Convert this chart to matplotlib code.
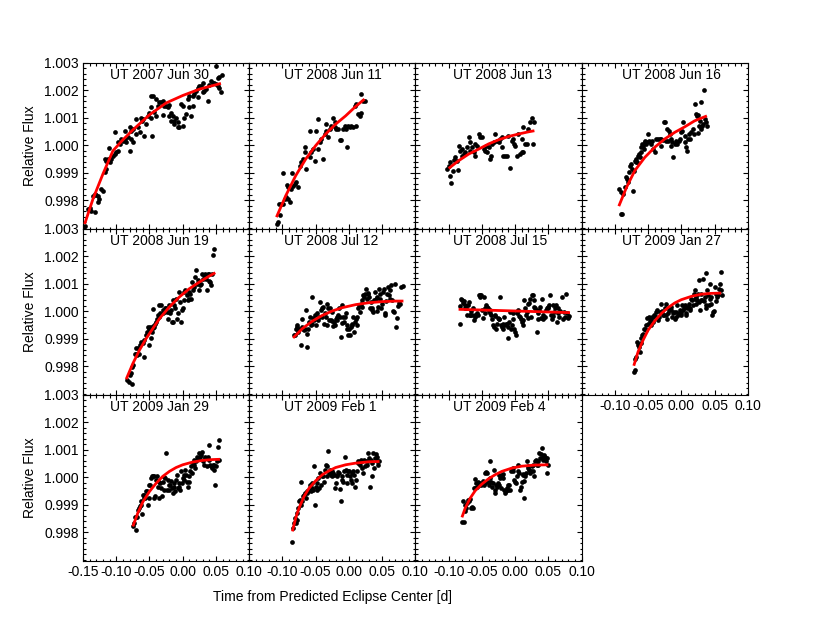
"""Secondary eclipse light curves: eleven nights of relative flux with ramp-model fits."""

import matplotlib

matplotlib.use("Agg")
import matplotlib.pyplot as plt
import numpy as np
from matplotlib.ticker import MultipleLocator

plt.rcParams["font.family"] = ["Liberation Sans", "DejaVu Sans"]
plt.rcParams["axes.unicode_minus"] = False

# ---------------------------------------------------------------------------
# Data: (time from predicted eclipse center [d], relative flux)
# ---------------------------------------------------------------------------
jun30_2007 = np.array([
    (-0.1475, 0.99707), (-0.1425, 0.99768), (-0.14, 0.99771), (-0.1375, 0.99762), (-0.1325, 0.99756),
    (-0.135, 0.99816), (-0.1325, 0.99822), (-0.13, 0.99819), (-0.1275, 0.99816), (-0.126, 0.99804),
    (-0.1275, 0.99792), (-0.1225, 0.99840), (-0.12, 0.99834), (-0.1175, 0.99901), (-0.115, 0.99913),
    (-0.1175, 0.99949), (-0.115, 0.99943), (-0.1125, 0.99949), (-0.11, 0.99937), (-0.1075, 0.99949),
    (-0.111, 0.99988), (-0.105, 0.99961), (-0.1025, 0.99967), (-0.10, 0.99973), (-0.0975, 0.99979),
    (-0.1025, 1.00046), (-0.0975, 1.00010), (-0.095, 1.00004), (-0.0925, 1.00022), (-0.09, 1.00016),
    (-0.0875, 1.00022), (-0.0875, 1.00052), (-0.085, 1.00010), (-0.0825, 1.00028), (-0.08, 0.99979),
    (-0.0775, 1.00022), (-0.075, 1.00010), (-0.08, 1.00064), (-0.0775, 1.00052), (-0.075, 1.00058),
    (-0.07, 1.00094), (-0.07, 1.00040), (-0.0675, 1.00064), (-0.065, 1.00046), (-0.0625, 1.00100),
    (-0.061, 1.00088), (-0.059, 1.00094), (-0.0575, 1.00034), (-0.055, 1.00076), (-0.0525, 1.00106),
    (-0.05, 1.00118), (-0.0475, 1.00100), (-0.046, 1.00034), (-0.0475, 1.00137), (-0.0425, 1.00121),
    (-0.04, 1.00106), (-0.0475, 1.00179), (-0.045, 1.00177), (-0.04, 1.00167), (-0.0375, 1.00143),
    (-0.035, 1.00155), (-0.0325, 1.00157), (-0.03, 1.00161), (-0.0275, 1.00143), (-0.025, 1.00143),
    (-0.0225, 1.00137), (-0.02, 1.00145), (-0.0175, 1.00118), (-0.015, 1.00106), (-0.0125, 1.00076),
    (-0.01, 1.00100), (-0.0075, 1.00082), (-0.005, 1.00064), (-0.0025, 1.00149), (0.0, 1.00143),
    (0.0025, 1.00100), (0.005, 1.00112), (-0.03, 1.00109), (-0.02, 1.00106), (-0.0175, 1.00088),
    (-0.0125, 1.00088), (0.0, 1.00070), (-0.0075, 1.00064), (0.0075, 1.00167), (0.01, 1.00179),
    (0.0125, 1.00106), (0.015, 1.00179), (0.0175, 1.00185), (0.02, 1.00197), (0.0225, 1.00206),
    (0.025, 1.00215), (0.0275, 1.00213), (0.03, 1.00191), (0.0325, 1.00197), (0.035, 1.00203),
    (0.0375, 1.00161), (0.04, 1.00218), (0.0425, 1.00233), (0.045, 1.00225), (0.0475, 1.00227),
    (0.05, 1.00221), (0.0525, 1.00215), (0.055, 1.00209), (0.0575, 1.00191), (0.05, 1.00288),
    (0.0525, 1.00245), (0.055, 1.00249), (0.059, 1.00254), (0.01, 1.00137), (0.015, 1.00143),
    (0.0225, 1.00173), (0.03, 1.00227),
])
fit_jun30_2007 = np.array([
    (-0.1475, 0.99713), (-0.135, 0.99804), (-0.12, 0.99895), (-0.105, 0.99979), (-0.09, 1.00019),
    (-0.075, 1.00055), (-0.05, 1.00110), (-0.025, 1.00153), (0.0, 1.00180), (0.025, 1.00203),
    (0.0575, 1.00224),
])

jun11_2008 = np.array([
    (-0.1075, 0.99713), (-0.1065, 0.99722), (-0.104, 0.99746), (-0.105, 0.99786), (-0.1015, 0.99786),
    (-0.099, 0.99786), (-0.0965, 0.99804), (-0.094, 0.99810), (-0.0915, 0.99804), (-0.089, 0.99792),
    (-0.099, 0.99897), (-0.093, 0.99853), (-0.0915, 0.99846), (-0.0865, 0.99840), (-0.084, 0.99850),
    (-0.0815, 0.99859), (-0.085, 0.99897), (-0.079, 0.99865), (-0.0765, 0.99846), (-0.074, 0.99925),
    (-0.0715, 0.99937), (-0.069, 0.99949), (-0.0665, 0.99973), (-0.064, 0.99913), (-0.0665, 0.99992),
    (-0.059, 0.99955), (-0.0565, 0.99973), (-0.054, 0.99985), (-0.0515, 0.99943), (-0.0465, 0.99985),
    (-0.044, 1.00010), (-0.0415, 1.00022), (-0.039, 0.99949), (-0.059, 1.00052), (-0.049, 1.00052),
    (-0.0465, 1.00094), (-0.0365, 1.00040), (-0.034, 1.00052), (-0.0315, 1.00028), (-0.029, 1.00058),
    (-0.0265, 1.00070), (-0.024, 1.00100), (-0.0215, 1.00082), (-0.019, 1.00058), (-0.0165, 1.00058),
    (-0.014, 1.00018), (-0.0115, 1.00018), (-0.009, 1.00058), (-0.0065, 1.00070), (-0.004, 1.00058),
    (-0.003, 0.99992), (-0.0015, 1.00070), (0.001, 1.00064), (0.0035, 1.00070), (0.006, 1.00064),
    (0.0085, 1.00143), (0.01, 1.00070), (0.011, 1.00149), (0.0135, 1.00112), (0.016, 1.00106),
    (0.0185, 1.00118), (0.0185, 1.00185), (0.021, 1.00161), (0.0235, 1.00161), (-0.035, 1.00076),
    (-0.0215, 1.00064),
])
fit_jun11_2008 = np.array([
    (-0.109, 0.99738), (-0.095, 0.99816), (-0.08, 0.99889), (-0.065, 0.99949), (-0.05, 0.99998),
    (-0.035, 1.00040), (-0.02, 1.00076), (-0.005, 1.00106), (0.01, 1.00140), (0.0235, 1.00167),
])

jun13_2008 = np.array([
    (-0.1025, 0.99913), (-0.10, 0.99925), (-0.0985, 0.99889), (-0.096, 0.99862), (-0.094, 0.99907),
    (-0.0975, 0.99937), (-0.0925, 0.99947), (-0.09, 0.99955), (-0.0875, 0.99943), (-0.086, 0.99911),
    (-0.085, 0.99998), (-0.0825, 0.99979), (-0.08, 0.99985), (-0.08, 0.99961), (-0.0775, 0.99967),
    (-0.075, 0.99973), (-0.0725, 0.99992), (-0.07, 1.00028), (-0.0685, 1.00010), (-0.0675, 0.99979),
    (-0.065, 0.99992), (-0.0625, 0.99973), (-0.06, 0.99961), (-0.06, 1.00004), (-0.0575, 0.99998),
    (-0.055, 1.00040), (-0.0525, 1.00028), (-0.05, 1.00028), (-0.0475, 0.99985), (-0.045, 0.99979),
    (-0.0435, 0.99998), (-0.0425, 0.99973), (-0.04, 0.99992), (-0.0375, 0.99949), (-0.036, 0.99961),
    (-0.035, 1.00004), (-0.0325, 1.00010), (-0.03, 1.00040), (-0.0275, 1.00016), (-0.025, 1.00010),
    (-0.0225, 1.00022), (-0.02, 1.00028), (-0.019, 0.99992), (-0.0175, 0.99961), (-0.015, 0.99961),
    (-0.0125, 0.99961), (-0.01, 1.00034), (-0.0075, 0.99915), (-0.005, 1.00016), (-0.0025, 1.00022),
    (-0.001, 1.00004), (0.0, 0.99998), (0.0025, 0.99961), (0.005, 1.00040), (0.0075, 0.99967),
    (0.01, 0.99973), (0.0125, 0.99973), (0.01, 1.00022), (0.0125, 1.00064), (0.015, 1.00004),
    (0.0175, 1.00004), (0.02, 1.00058), (0.0225, 1.00082), (0.025, 1.00100), (0.0275, 1.00004),
    (0.029, 1.00085),
])
fit_jun13_2008 = np.array([
    (-0.10, 0.99915), (-0.085, 0.99943), (-0.07, 0.99967), (-0.055, 0.99985), (-0.04, 1.00004),
    (-0.025, 1.00019), (-0.01, 1.00031), (0.005, 1.00040), (0.02, 1.00048), (0.029, 1.00052),
])

jun16_2008 = np.array([
    (-0.093, 0.99840), (-0.091, 0.99750), (-0.089, 0.99750), (-0.09, 0.99828), (-0.0875, 0.99822),
    (-0.085, 0.99846), (-0.0835, 0.99883), (-0.081, 0.99877), (-0.08, 0.99865), (-0.0785, 0.99901),
    (-0.0775, 0.99925), (-0.075, 0.99931), (-0.074, 0.99913), (-0.0725, 0.99834), (-0.071, 0.99907),
    (-0.07, 0.99943), (-0.0685, 0.99937), (-0.0675, 0.99949), (-0.066, 0.99937), (-0.065, 0.99961),
    (-0.064, 0.99967), (-0.0625, 0.99955), (-0.061, 0.99973), (-0.06, 0.99992), (-0.059, 1.00004),
    (-0.0575, 0.99998), (-0.056, 0.99985), (-0.055, 1.00010), (-0.054, 1.00016), (-0.0525, 1.00004),
    (-0.051, 1.00010), (-0.05, 1.00040), (-0.0485, 1.00016), (-0.047, 1.00010), (-0.045, 1.00004),
    (-0.0435, 1.00016), (-0.0425, 0.99985), (-0.04, 0.99973), (-0.0375, 1.00022), (-0.035, 1.00022),
    (-0.0325, 1.00022), (-0.031, 0.99998), (-0.03, 1.00022), (-0.0275, 1.00019), (-0.026, 1.00085),
    (-0.024, 1.00082), (-0.0225, 1.00016), (-0.0215, 1.00058), (-0.02, 1.00016), (-0.019, 1.00052),
    (-0.017, 1.00040), (-0.016, 0.99998), (-0.015, 1.00022), (-0.014, 1.00010), (-0.012, 0.99955),
    (-0.01, 1.00004), (-0.0085, 1.00016), (-0.006, 1.00004), (-0.0035, 1.00016), (-0.0015, 1.00022),
    (0.0, 1.00046), (0.0015, 1.00052), (0.0025, 1.00082), (0.005, 1.00034), (0.006, 1.00012),
    (0.0075, 0.99992), (0.009, 0.99979), (0.01, 1.00022), (0.011, 1.00040), (0.0125, 1.00022),
    (0.015, 1.00046), (0.0175, 1.00058), (0.0185, 1.00040), (0.02, 1.00149), (0.0215, 1.00112),
    (0.023, 1.00106), (0.0245, 1.00109), (0.025, 1.00044), (0.026, 1.00070), (0.0275, 1.00088),
    (0.029, 1.00158), (0.03, 1.00058), (0.0315, 1.00070), (0.0325, 1.00076), (0.034, 1.00201),
    (0.035, 1.00094), (0.0365, 1.00085), (0.038, 1.00068),
])
fit_jun16_2008 = np.array([
    (-0.094, 0.99778), (-0.0825, 0.99846), (-0.07, 0.99907), (-0.055, 0.99955), (-0.04, 0.99992),
    (-0.025, 1.00022), (-0.01, 1.00046), (0.005, 1.00066), (0.02, 1.00088), (0.0385, 1.00106),
])

jun19_2008 = np.array([
    (-0.0835, 0.99750), (-0.081, 0.99744), (-0.076, 0.99735), (-0.08, 0.99768), (-0.0785, 0.99774),
    (-0.076, 0.99798), (-0.075, 0.99804), (-0.0725, 0.99846), (-0.071, 0.99865), (-0.07, 0.99843),
    (-0.0675, 0.99865), (-0.0685, 0.99840), (-0.066, 0.99846), (-0.064, 0.99877), (-0.0625, 0.99889),
    (-0.06, 0.99883), (-0.0585, 0.99834), (-0.0575, 0.99895), (-0.055, 0.99913), (-0.0535, 0.99925),
    (-0.0525, 0.99943), (-0.051, 0.99877), (-0.05, 0.99937), (-0.0485, 0.99943), (-0.0475, 0.99901),
    (-0.046, 0.99925), (-0.045, 0.99940), (-0.045, 1.00008), (-0.044, 0.99947), (-0.0425, 0.99943),
    (-0.041, 0.99955), (-0.04, 0.99961), (-0.039, 0.99973), (-0.0375, 0.99985), (-0.036, 1.00022),
    (-0.035, 0.99979), (-0.0335, 0.99992), (-0.0325, 1.00024), (-0.03, 0.99992), (-0.029, 1.00004),
    (-0.0275, 0.99998), (-0.026, 1.00010), (-0.025, 1.00010), (-0.0235, 0.99998), (-0.0225, 0.99973),
    (-0.021, 1.00022), (-0.02, 0.99998), (-0.0185, 0.99992), (-0.017, 1.00004), (-0.016, 0.99961),
    (-0.015, 0.99961), (-0.014, 1.00040), (-0.0125, 1.00022), (-0.011, 1.00010), (-0.01, 1.00046),
    (-0.0085, 0.99973), (-0.0075, 0.99992), (-0.005, 1.00070), (-0.0025, 0.99961), (-0.0035, 1.00034),
    (-0.0015, 1.00004), (0.0, 1.00010), (0.0015, 1.00070), (0.0025, 1.00040), (0.004, 1.00076),
    (0.006, 1.00058), (0.008, 1.00040), (0.009, 1.00046), (0.01, 1.00070), (0.011, 1.00064),
    (0.0125, 1.00046), (0.014, 1.00106), (0.016, 1.00076), (0.0175, 1.00088), (0.0185, 1.00125),
    (0.02, 1.00149), (0.0215, 1.00100), (0.023, 1.00112), (0.025, 1.00076), (0.0265, 1.00094),
    (0.028, 1.00100), (0.029, 1.00137), (0.03, 1.00118), (0.0315, 1.00131), (0.033, 1.00137),
    (0.035, 1.00118), (0.0365, 1.00076), (0.038, 1.00137), (0.039, 1.00109), (0.04, 1.00137),
    (0.0415, 1.00106), (0.0425, 1.00094), (0.044, 1.00137), (0.0455, 1.00203), (0.0465, 1.00225),
])
fit_jun19_2008 = np.array([
    (-0.085, 0.99753), (-0.075, 0.99810), (-0.065, 0.99859), (-0.055, 0.99901), (-0.045, 0.99937),
    (-0.035, 0.99973), (-0.02, 1.00016), (-0.005, 1.00052), (0.01, 1.00082), (0.025, 1.00106),
    (0.04, 1.00128), (0.049, 1.00140),
])

jul12_2008 = np.array([
    (-0.0825, 0.99913), (-0.081, 0.99915), (-0.08, 0.99937), (-0.0785, 0.99949), (-0.0775, 0.99943),
    (-0.076, 0.99925), (-0.075, 0.99937), (-0.0725, 0.99877), (-0.071, 0.99943), (-0.07, 0.99973),
    (-0.0685, 0.99937), (-0.0675, 0.99931), (-0.066, 0.99937), (-0.065, 1.00004), (-0.0635, 0.99871),
    (-0.0625, 0.99919), (-0.061, 0.99937), (-0.06, 0.99961), (-0.0585, 0.99979), (-0.0575, 0.99949),
    (-0.056, 0.99955), (-0.055, 1.00052), (-0.0535, 0.99976), (-0.0525, 0.99967), (-0.051, 0.99985),
    (-0.05, 0.99949), (-0.0475, 0.99992), (-0.046, 0.99967), (-0.045, 0.99979), (-0.0435, 1.00034),
    (-0.0425, 1.00004), (-0.041, 0.99979), (-0.04, 1.00010), (-0.0385, 1.00016), (-0.0375, 0.99955),
    (-0.036, 0.99992), (-0.035, 0.99979), (-0.0335, 0.99949), (-0.0325, 1.00028), (-0.031, 1.00012),
    (-0.03, 0.99967), (-0.0285, 1.00010), (-0.0275, 0.99967), (-0.026, 0.99964), (-0.025, 0.99998),
    (-0.0235, 0.99947), (-0.0225, 0.99961), (-0.021, 0.99949), (-0.02, 0.99973), (-0.0185, 0.99979),
    (-0.0175, 0.99967), (-0.016, 0.99985), (-0.015, 1.00010), (-0.0135, 0.99979), (-0.0125, 0.99907),
    (-0.011, 1.00022), (-0.01, 0.99959), (-0.0085, 0.99979), (-0.0075, 0.99961), (-0.006, 0.99979),
    (-0.005, 0.99992), (-0.0035, 0.99937), (-0.0025, 0.99949), (-0.001, 0.99915), (0.0, 0.99937),
    (0.0015, 0.99915), (0.0025, 0.99943), (0.004, 0.99955), (0.005, 0.99949), (0.0065, 0.99979),
    (0.0075, 0.99925), (0.009, 0.99961), (0.01, 0.99973), (0.0115, 0.99949), (0.0125, 0.99979),
    (0.014, 1.00010), (0.015, 1.00022), (0.0165, 0.99998), (0.0175, 1.00028), (0.019, 1.00016),
    (0.02, 1.00040), (0.0215, 1.00058), (0.023, 1.00052), (0.024, 1.00064), (0.025, 1.00082),
    (0.0265, 1.00046), (0.028, 1.00064), (0.029, 1.00068), (0.03, 1.00052), (0.0315, 1.00010),
    (0.0325, 1.00034), (0.034, 1.00004), (0.035, 1.00010), (0.0365, 0.99998), (0.0375, 1.00040),
    (0.039, 1.00070), (0.04, 1.00046), (0.0415, 1.00052), (0.0425, 1.00000), (0.044, 1.00016),
    (0.045, 1.00082), (0.0465, 1.00046), (0.0475, 1.00064), (0.049, 1.00010), (0.05, 1.00028),
    (0.0515, 1.00070), (0.0525, 1.00082), (0.054, 0.99992), (0.055, 0.99985), (0.0565, 1.00036),
    (0.0575, 1.00064), (0.059, 1.00088), (0.06, 1.00058), (0.0615, 1.00076), (0.0625, 1.00046),
    (0.064, 1.00094), (0.065, 1.00040), (0.0665, 1.00000), (0.068, 0.99998), (0.07, 1.00100),
    (0.0715, 0.99943), (0.073, 0.99976), (0.0745, 1.00019), (0.076, 1.00031), (0.0775, 1.00028),
    (0.079, 1.00088), (0.081, 1.00092),
])
fit_jul12_2008 = np.array([
    (-0.084, 0.99903), (-0.07, 0.99937), (-0.055, 0.99964), (-0.04, 0.99985), (-0.025, 1.00001),
    (-0.01, 1.00013), (0.01, 1.00024), (0.03, 1.00031), (0.05, 1.00035), (0.07, 1.00037),
    (0.082, 1.00037),
])

jul15_2008 = np.array([
    (-0.0835, 1.00019), (-0.0825, 0.99955), (-0.081, 1.00046), (-0.08, 1.00040), (-0.0785, 1.00031),
    (-0.0775, 1.00036), (-0.076, 1.00010), (-0.075, 1.00024), (-0.074, 1.00010), (-0.0725, 0.99988),
    (-0.071, 1.00022), (-0.07, 1.00034), (-0.0685, 0.99988), (-0.0675, 0.99988), (-0.066, 1.00000),
    (-0.065, 0.99985), (-0.0635, 1.00010), (-0.0625, 0.99967), (-0.061, 0.99988), (-0.06, 0.99979),
    (-0.0585, 0.99988), (-0.0575, 0.99992), (-0.056, 0.99988), (-0.055, 1.00058), (-0.0535, 1.00058),
    (-0.0525, 1.00052), (-0.051, 1.00058), (-0.05, 1.00004), (-0.0485, 0.99976), (-0.0475, 1.00052),
    (-0.046, 1.00010), (-0.045, 0.99992), (-0.0435, 1.00022), (-0.0425, 1.00016), (-0.041, 1.00010),
    (-0.04, 1.00000), (-0.0385, 1.00004), (-0.0375, 0.99992), (-0.036, 0.99985), (-0.035, 0.99973),
    (-0.0335, 0.99949), (-0.0325, 0.99943), (-0.031, 0.99983), (-0.03, 0.99985), (-0.0285, 0.99935),
    (-0.0275, 0.99955), (-0.026, 0.99976), (-0.025, 0.99973), (-0.024, 0.99971), (-0.0225, 1.00052),
    (-0.021, 0.99949), (-0.02, 0.99943), (-0.0185, 0.99955), (-0.0175, 0.99937), (-0.016, 0.99979),
    (-0.015, 0.99949), (-0.0135, 0.99952), (-0.0125, 0.99955), (-0.011, 0.99903), (-0.01, 0.99943),
    (-0.0085, 0.99961), (-0.0075, 0.99998), (-0.006, 0.99937), (-0.005, 0.99949), (-0.0035, 0.99992),
    (-0.0025, 0.99973), (-0.001, 0.99937), (0.0, 0.99925), (0.001, 0.99913), (0.0025, 0.99992),
    (0.004, 1.00000), (0.005, 1.00004), (0.0065, 0.99983), (0.0075, 0.99979), (0.009, 0.99973),
    (0.01, 0.99961), (0.0115, 0.99949), (0.0125, 0.99967), (0.014, 1.00040), (0.015, 1.00010),
    (0.0165, 0.99985), (0.0175, 0.99998), (0.019, 0.99976), (0.02, 1.00028), (0.0215, 1.00031),
    (0.0225, 1.00046), (0.024, 0.99979), (0.025, 1.00058), (0.0265, 1.00060), (0.028, 1.00016),
    (0.029, 1.00040), (0.03, 1.00010), (0.0315, 1.00006), (0.033, 0.99925), (0.034, 0.99992),
    (0.035, 0.99973), (0.0365, 1.00004), (0.0375, 1.00016), (0.039, 0.99976), (0.04, 1.00044),
    (0.0415, 0.99973), (0.0425, 0.99985), (0.044, 0.99979), (0.045, 0.99979), (0.0465, 1.00004),
    (0.0475, 1.00010), (0.049, 1.00016), (0.05, 1.00010), (0.0515, 1.00022), (0.0525, 1.00058),
    (0.054, 0.99988), (0.055, 0.99973), (0.0565, 0.99983), (0.0575, 1.00022), (0.059, 0.99998),
    (0.06, 1.00010), (0.0615, 1.00022), (0.0625, 0.99961), (0.064, 1.00010), (0.065, 0.99992),
    (0.0665, 0.99979), (0.068, 1.00000), (0.07, 1.00052), (0.0715, 0.99973), (0.073, 0.99998),
    (0.0745, 0.99979), (0.076, 1.00064), (0.0775, 0.99992), (0.079, 0.99976), (0.081, 0.99983),
])
fit_jul15_2008 = np.array([
    (-0.085, 1.00007), (0.0, 1.00001), (0.0825, 0.99995),
])

jan27_2009 = np.array([
    (-0.0715, 0.99780), (-0.07, 0.99786), (-0.069, 0.99828), (-0.0675, 0.99834), (-0.066, 0.99889),
    (-0.065, 0.99877), (-0.0635, 0.99871), (-0.0625, 0.99853), (-0.061, 0.99883), (-0.06, 0.99901),
    (-0.0585, 0.99913), (-0.0575, 0.99919), (-0.056, 0.99937), (-0.055, 0.99937), (-0.0535, 0.99931),
    (-0.0525, 0.99949), (-0.0515, 0.99976), (-0.05, 0.99955), (-0.0485, 0.99979), (-0.047, 0.99964),
    (-0.046, 0.99949), (-0.045, 0.99973), (-0.0435, 0.99979), (-0.0425, 0.99961), (-0.041, 0.99985),
    (-0.04, 0.99979), (-0.0385, 0.99998), (-0.0375, 0.99979), (-0.036, 1.00004), (-0.035, 0.99967),
    (-0.0335, 0.99979), (-0.0325, 0.99998), (-0.031, 0.99998), (-0.03, 1.00028), (-0.0285, 1.00000),
    (-0.0275, 0.99985), (-0.026, 0.99985), (-0.025, 1.00010), (-0.0235, 1.00028), (-0.0225, 0.99985),
    (-0.021, 0.99973), (-0.02, 0.99992), (-0.0185, 1.00004), (-0.0175, 1.00010), (-0.016, 1.00016),
    (-0.015, 1.00004), (-0.0135, 0.99979), (-0.0125, 0.99992), (-0.011, 0.99998), (-0.01, 0.99973),
    (-0.0085, 0.99998), (-0.0075, 0.99979), (-0.006, 1.00024), (-0.005, 0.99988), (-0.0035, 0.99992),
    (-0.0025, 1.00004), (-0.001, 0.99985), (0.0, 0.99992), (0.0015, 1.00022), (0.003, 1.00004),
    (0.004, 1.00010), (0.005, 1.00022), (0.0065, 0.99992), (0.0075, 0.99985), (0.009, 1.00010),
    (0.01, 1.00016), (0.0115, 1.00028), (0.0125, 1.00004), (0.0135, 1.00010), (0.015, 1.00046),
    (0.0165, 1.00040), (0.0175, 1.00022), (0.019, 1.00064), (0.02, 1.00046), (0.021, 1.00076),
    (0.0215, 1.00052), (0.0225, 1.00028), (0.024, 1.00040), (0.025, 1.00064), (0.0265, 1.00034),
    (0.027, 1.00115), (0.028, 1.00004), (0.029, 1.00040), (0.03, 1.00064), (0.0315, 1.00040),
    (0.0325, 1.00118), (0.034, 1.00036), (0.035, 1.00052), (0.0365, 1.00010), (0.037, 1.00140),
    (0.0375, 1.00022), (0.039, 1.00076), (0.04, 1.00058), (0.0415, 1.00022), (0.0425, 1.00046),
    (0.0435, 1.00100), (0.044, 1.00028), (0.045, 1.00052), (0.0465, 0.99985), (0.0475, 0.99998),
    (0.049, 1.00000), (0.05, 1.00088), (0.0515, 1.00036), (0.0525, 1.00064), (0.054, 1.00052),
    (0.055, 1.00058), (0.0565, 1.00082), (0.058, 1.00100), (0.059, 1.00076), (0.06, 1.00143),
    (0.061, 1.00060),
])
fit_jan27_2009 = np.array([
    (-0.0715, 0.99802), (-0.065, 0.99853), (-0.0575, 0.99895), (-0.05, 0.99931), (-0.04, 0.99965),
    (-0.03, 0.99992), (-0.02, 1.00013), (-0.01, 1.00030), (0.0, 1.00042), (0.015, 1.00054),
    (0.03, 1.00062), (0.045, 1.00065), (0.06, 1.00066),
])

jan29_2009 = np.array([
    (-0.075, 0.99822), (-0.0735, 0.99834), (-0.0725, 0.99855), (-0.071, 0.99810), (-0.07, 0.99855),
    (-0.0685, 0.99855), (-0.0675, 0.99883), (-0.066, 0.99889), (-0.065, 0.99895), (-0.0635, 0.99901),
    (-0.0625, 0.99913), (-0.061, 0.99867), (-0.06, 0.99937), (-0.0585, 0.99937), (-0.0575, 0.99925),
    (-0.056, 0.99925), (-0.055, 0.99949), (-0.0535, 0.99949), (-0.0525, 0.99901), (-0.051, 0.99925),
    (-0.05, 0.99973), (-0.0485, 0.99973), (-0.0475, 0.99998), (-0.046, 1.00004), (-0.045, 1.00004),
    (-0.0435, 1.00004), (-0.0425, 0.99925), (-0.041, 0.99931), (-0.04, 0.99992), (-0.0385, 1.00004),
    (-0.0375, 0.99967), (-0.036, 0.99985), (-0.035, 0.99925), (-0.0335, 0.99979), (-0.0325, 0.99961),
    (-0.031, 0.99931), (-0.03, 0.99985), (-0.0285, 0.99955), (-0.0275, 1.00000), (-0.026, 0.99998),
    (-0.025, 1.00088), (-0.0235, 0.99955), (-0.0225, 0.99992), (-0.021, 0.99973), (-0.02, 0.99955),
    (-0.0185, 0.99973), (-0.0175, 0.99988), (-0.016, 0.99961), (-0.015, 0.99943), (-0.0135, 0.99979),
    (-0.0125, 0.99967), (-0.011, 0.99949), (-0.01, 0.99992), (-0.0085, 1.00010), (-0.0075, 0.99961),
    (-0.006, 0.99979), (-0.005, 0.99967), (-0.0035, 0.99955), (-0.0025, 1.00022), (-0.001, 0.99979),
    (0.0, 0.99998), (0.0015, 1.00010), (0.0025, 0.99992), (0.004, 1.00028), (0.005, 1.00010),
    (0.0065, 0.99985), (0.0075, 0.99967), (0.009, 0.99985), (0.01, 1.00004), (0.0115, 1.00022),
    (0.0125, 1.00040), (0.014, 1.00016), (0.015, 1.00052), (0.0165, 1.00064), (0.0175, 1.00046),
    (0.019, 1.00034), (0.02, 1.00058), (0.0215, 1.00076), (0.0225, 1.00070), (0.024, 1.00070),
    (0.025, 1.00088), (0.0265, 1.00076), (0.028, 1.00082), (0.029, 1.00094), (0.03, 1.00058),
    (0.0315, 1.00046), (0.033, 1.00070), (0.034, 1.00076), (0.035, 1.00070), (0.0365, 1.00040),
    (0.0375, 1.00076), (0.039, 1.00118), (0.04, 1.00064), (0.0415, 1.00046), (0.0425, 1.00040),
    (0.044, 1.00034), (0.045, 1.00046), (0.0465, 1.00046), (0.0475, 1.00028), (0.049, 0.99973),
    (0.05, 1.00040), (0.0515, 1.00058), (0.0525, 1.00110), (0.054, 1.00137), (0.055, 1.00064),
])
fit_jan29_2009 = np.array([
    (-0.075, 0.99822), (-0.0675, 0.99871), (-0.06, 0.99911), (-0.05, 0.99949), (-0.04, 0.99979),
    (-0.03, 1.00004), (-0.02, 1.00022), (-0.01, 1.00036), (0.0, 1.00046), (0.015, 1.00056),
    (0.03, 1.00062), (0.045, 1.00065), (0.056, 1.00066),
])

feb01_2009 = np.array([
    (-0.085, 0.99764), (-0.084, 0.99816), (-0.0825, 0.99834), (-0.0815, 0.99853), (-0.08, 0.99834),
    (-0.0785, 0.99846), (-0.0775, 0.99871), (-0.076, 0.99889), (-0.075, 0.99913), (-0.074, 0.99919),
    (-0.0725, 0.99901), (-0.0715, 0.99985), (-0.07, 0.99913), (-0.069, 0.99931), (-0.0675, 0.99937),
    (-0.066, 0.99943), (-0.065, 0.99925), (-0.0635, 0.99943), (-0.0625, 0.99949), (-0.061, 0.99952),
    (-0.06, 0.99955), (-0.0585, 0.99973), (-0.0575, 0.99949), (-0.056, 0.99961), (-0.055, 0.99979),
    (-0.0535, 0.99955), (-0.0525, 1.00040), (-0.0515, 0.99901), (-0.05, 0.99964), (-0.0485, 0.99955),
    (-0.0475, 0.99979), (-0.046, 0.99998), (-0.045, 0.99961), (-0.0435, 1.00016), (-0.0425, 0.99973),
    (-0.041, 1.00004), (-0.04, 1.00010), (-0.0385, 1.00004), (-0.0375, 0.99985), (-0.036, 1.00028),
    (-0.035, 1.00046), (-0.0335, 1.00040), (-0.0325, 1.00004), (-0.031, 1.00097), (-0.03, 1.00016),
    (-0.0285, 1.00028), (-0.0275, 1.00010), (-0.026, 1.00022), (-0.025, 1.00004), (-0.0235, 1.00016),
    (-0.0225, 1.00010), (-0.021, 0.99961), (-0.02, 0.99979), (-0.0185, 1.00010), (-0.0175, 1.00004),
    (-0.016, 1.00019), (-0.015, 1.00016), (-0.0135, 0.99959), (-0.0125, 0.99913), (-0.011, 1.00004),
    (-0.01, 0.99992), (-0.0085, 0.99985), (-0.0075, 1.00024), (-0.006, 1.00073), (-0.005, 1.00028),
    (-0.0035, 1.00010), (-0.0025, 0.99979), (-0.001, 1.00022), (0.0, 1.00022), (0.0015, 1.00004),
    (0.0025, 0.99992), (0.004, 1.00016), (0.005, 0.99979), (0.0065, 1.00022), (0.0075, 1.00010),
    (0.009, 0.99967), (0.01, 0.99992), (0.0115, 1.00022), (0.013, 1.00058), (0.014, 1.00052),
    (0.015, 1.00052), (0.0165, 1.00046), (0.018, 1.00064), (0.019, 1.00034), (0.02, 1.00058),
    (0.0215, 1.00016), (0.0225, 1.00064), (0.024, 1.00040), (0.0255, 1.00058), (0.0265, 1.00046),
    (0.028, 1.00088), (0.029, 1.00058), (0.03, 1.00070), (0.0315, 0.99967), (0.0325, 1.00064),
    (0.034, 1.00004), (0.035, 1.00052), (0.0365, 1.00088), (0.0375, 1.00034), (0.039, 1.00070),
    (0.04, 1.00085), (0.0415, 1.00058), (0.0425, 1.00076), (0.044, 1.00044), (0.0455, 1.00058),
])
fit_feb01_2009 = np.array([
    (-0.085, 0.99804), (-0.08, 0.99853), (-0.075, 0.99889), (-0.0675, 0.99931), (-0.06, 0.99961),
    (-0.05, 0.99988), (-0.04, 1.00010), (-0.03, 1.00024), (-0.02, 1.00036), (-0.005, 1.00046),
    (0.01, 1.00052), (0.03, 1.00057), (0.046, 1.00058),
])

feb04_2009 = np.array([
    (-0.08, 0.99837), (-0.0775, 0.99838), (-0.0785, 0.99913), (-0.076, 0.99901), (-0.075, 0.99877),
    (-0.0735, 0.99889), (-0.0725, 0.99907), (-0.071, 0.99919), (-0.07, 0.99915), (-0.0675, 0.99923),
    (-0.066, 0.99889), (-0.065, 0.99891), (-0.064, 0.99889), (-0.0625, 0.99961), (-0.061, 0.99961),
    (-0.06, 0.99995), (-0.059, 0.99979), (-0.0575, 0.99967), (-0.056, 0.99983), (-0.055, 0.99973),
    (-0.0535, 0.99979), (-0.0525, 0.99976), (-0.051, 0.99971), (-0.05, 0.99976), (-0.0485, 0.99988),
    (-0.0475, 0.99973), (-0.046, 0.99979), (-0.045, 1.00016), (-0.0435, 1.00019), (-0.0425, 1.00016),
    (-0.041, 0.99985), (-0.04, 0.99973), (-0.0385, 0.99998), (-0.0375, 1.00060), (-0.036, 0.99983),
    (-0.035, 0.99967), (-0.0335, 0.99979), (-0.0325, 1.00028), (-0.031, 0.99943), (-0.03, 0.99955),
    (-0.0285, 0.99973), (-0.0275, 0.99967), (-0.026, 0.99979), (-0.025, 1.00010), (-0.0235, 0.99973),
    (-0.0225, 0.99998), (-0.021, 0.99961), (-0.02, 1.00010), (-0.0185, 0.99998), (-0.0175, 1.00013),
    (-0.016, 0.99955), (-0.015, 0.99943), (-0.0135, 0.99949), (-0.0125, 0.99961), (-0.011, 0.99973),
    (-0.01, 0.99955), (-0.0085, 0.99971), (-0.0075, 0.99955), (-0.006, 1.00022), (-0.005, 1.00028),
    (-0.0035, 1.00024), (-0.0025, 1.00034), (-0.0015, 0.99992), (0.0, 0.99985), (0.0015, 0.99979),
    (0.0025, 1.00004), (0.004, 1.00022), (0.005, 1.00046), (0.0065, 1.00016), (0.0075, 0.99955),
    (0.009, 0.99967), (0.01, 0.99983), (0.0115, 1.00012), (0.0125, 1.00010), (0.013, 0.99927),
    (0.014, 0.99988), (0.015, 1.00004), (0.0165, 1.00016), (0.018, 1.00060), (0.019, 1.00034),
    (0.02, 1.00040), (0.0215, 1.00028), (0.0225, 1.00016), (0.024, 1.00024), (0.025, 1.00040),
    (0.0265, 1.00046), (0.0275, 1.00022), (0.029, 1.00004), (0.03, 1.00058), (0.0315, 1.00064),
    (0.0325, 1.00044), (0.034, 1.00046), (0.035, 1.00058), (0.0365, 1.00088), (0.0375, 1.00070),
    (0.039, 1.00085), (0.04, 1.00106), (0.0415, 1.00064), (0.0425, 1.00076), (0.044, 1.00082),
    (0.045, 1.00076), (0.046, 1.00058), (0.0475, 1.00016), (0.0485, 1.00070), (0.05, 1.00046),
])
fit_feb04_2009 = np.array([
    (-0.08, 0.99855), (-0.075, 0.99889), (-0.0675, 0.99925), (-0.06, 0.99952), (-0.05, 0.99976),
    (-0.04, 0.99995), (-0.03, 1.00010), (-0.02, 1.00022), (-0.005, 1.00034), (0.01, 1.00041),
    (0.03, 1.00045), (0.05, 1.00046),
])

night_labels = [
    "UT 2007 Jun 30", "UT 2008 Jun 11", "UT 2008 Jun 13", "UT 2008 Jun 16",
    "UT 2008 Jun 19", "UT 2008 Jul 12", "UT 2008 Jul 15", "UT 2009 Jan 27",
    "UT 2009 Jan 29", "UT 2009 Feb 1", "UT 2009 Feb 4",
]
night_data = [
    jun30_2007, jun11_2008, jun13_2008, jun16_2008, jun19_2008, jul12_2008,
    jul15_2008, jan27_2009, jan29_2009, feb01_2009, feb04_2009,
]
night_fits = [
    fit_jun30_2007, fit_jun11_2008, fit_jun13_2008, fit_jun16_2008, fit_jun19_2008, fit_jul12_2008,
    fit_jul15_2008, fit_jan27_2009, fit_jan29_2009, fit_feb01_2009, fit_feb04_2009,
]

x_ticks = [-0.15, -0.10, -0.05, 0.00, 0.05, 0.10]
y_ticks = [0.998, 0.999, 1.000, 1.001, 1.002, 1.003]


def make_figure() -> None:
    """Draws the 3x4 grid of eclipse light curves and saves it to out.png."""
    W, H = 830.0, 623.0
    left0, top0, size = 83.0, 62.5, 166.2
    # left offset of the night label inside each panel column (axes fraction)
    label_x = [0.161, 0.211, 0.225, 0.245]

    fig = plt.figure(figsize=(W / 100, H / 100), dpi=100)

    for i, (label, pts, fit) in enumerate(zip(night_labels, night_data, night_fits)):
        row, col = divmod(i, 4)
        rect = [(left0 + size * col) / W, 1 - (top0 + size * (row + 1)) / H, size / W, size / H]
        ax = fig.add_axes(rect)

        ax.plot(pts[:, 0], pts[:, 1], "o", color="black", ms=3.4, mew=0, zorder=2)
        ax.plot(fit[:, 0], fit[:, 1], color="red", lw=2.0, zorder=3, solid_capstyle="butt")

        ax.set_xlim(-0.15, 0.10)
        ax.set_ylim(0.99696, 1.003)
        ax.set_xticks(x_ticks)
        ax.set_yticks(y_ticks)
        ax.xaxis.set_minor_locator(MultipleLocator(0.01))
        ax.yaxis.set_minor_locator(MultipleLocator(0.0002))
        ax.tick_params(which="both", direction="in", top=True, right=True, width=0.8,
                       labelsize=10, pad=3)
        ax.tick_params(which="major", length=3.5)
        ax.tick_params(which="minor", length=1.8)
        for sp in ax.spines.values():
            sp.set_linewidth(0.8)

        if row == 2 or (row == 1 and col == 3):
            ax.set_xticklabels(["" if (col > 0 and v == -0.15) else f"{v:.2f}" for v in x_ticks])
        else:
            ax.tick_params(labelbottom=False)
        if col == 0:
            ax.set_yticklabels([f"{v:.3f}" for v in y_ticks])
        else:
            ax.tick_params(labelleft=False)

        ax.text(label_x[col], 0.927, label, transform=ax.transAxes, ha="left", va="center",
                fontsize=10)

    for row in range(3):
        yc = 1 - (top0 + size * row + size / 2) / H
        fig.text(30 / W, yc, "Relative Flux", rotation=90, ha="center", va="center", fontsize=10)

    fig.text((left0 + 1.5 * size) / W, 1 - 597 / H, "Time from Predicted Eclipse Center [d]",
             ha="center", va="center", fontsize=10)

    fig.savefig("out.png", dpi=100)
    plt.close(fig)


if __name__ == "__main__":
    make_figure()
